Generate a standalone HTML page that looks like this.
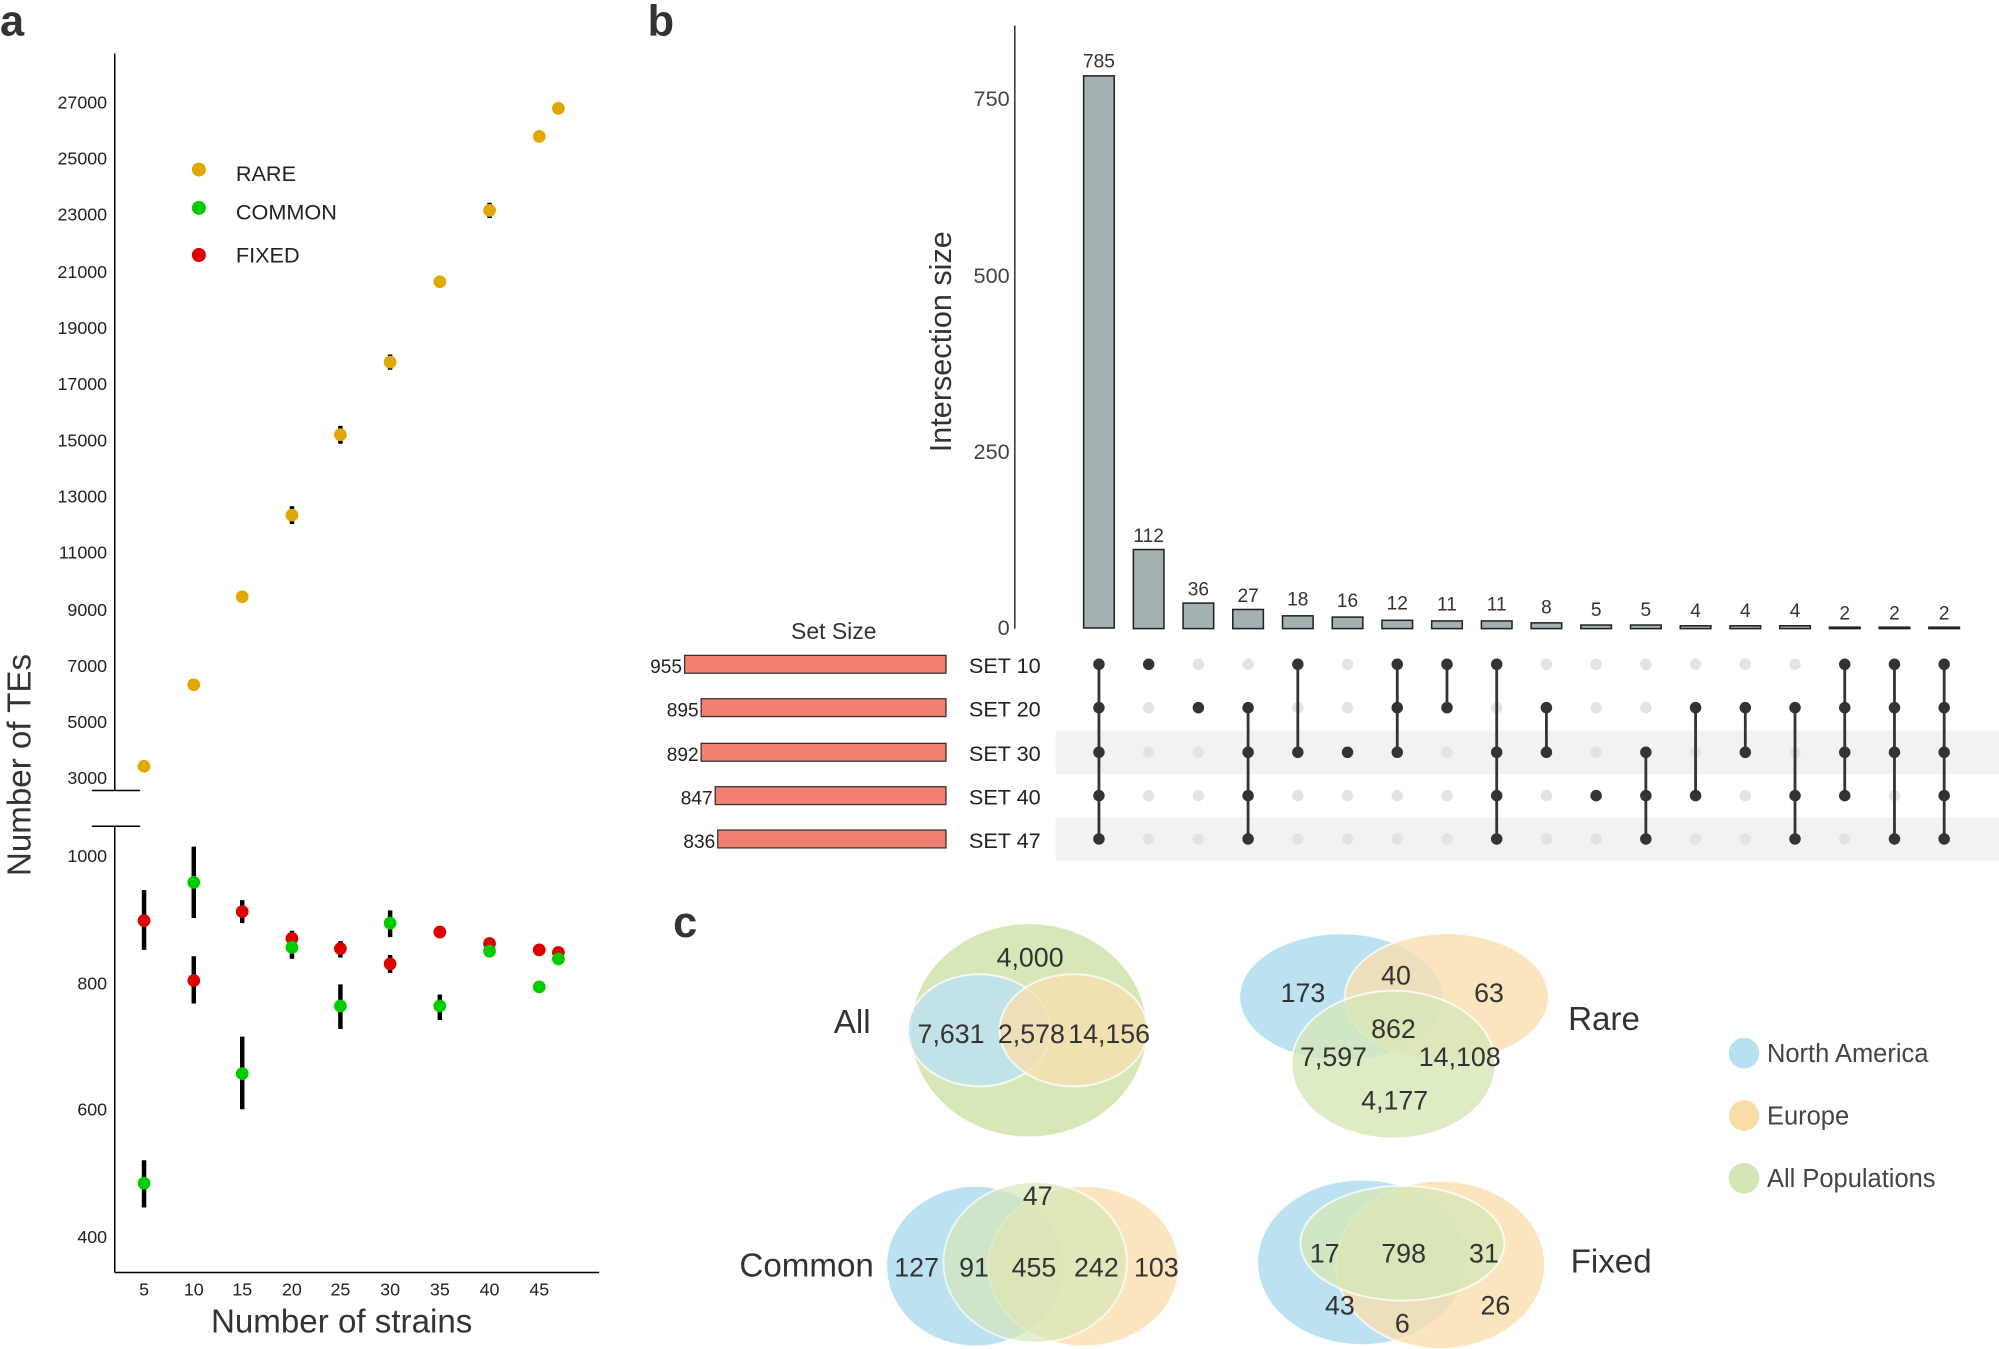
<!DOCTYPE html>
<html><head><meta charset="utf-8"><style>
html,body{margin:0;padding:0;background:#fff}
svg{display:block}
text{font-family:"Liberation Sans","DejaVu Sans",sans-serif}
</style></head><body>
<svg width="1999" height="1349" viewBox="0 0 1568 1058" preserveAspectRatio="none" xmlns="http://www.w3.org/2000/svg">
<defs>
<g id="gcol"><circle cy="521" r="4.5"/><circle cy="555" r="4.5"/><circle cy="590" r="4.5"/><circle cy="624" r="4.5"/><circle cy="658" r="4.5"/></g>
</defs>
<rect width="1568" height="1058" fill="#fff"/>
<text x="0" y="28" font-size="34" font-weight="bold" fill="#333">a</text>
<text x="508" y="28" font-size="34" font-weight="bold" fill="#333">b</text>
<text x="528" y="735" font-size="34" font-weight="bold" fill="#333">c</text>

<g stroke="#000" stroke-width="1.2" fill="none">
<line x1="90" y1="42" x2="90" y2="620"/>
<line x1="90" y1="648" x2="90" y2="998"/>
<line x1="90" y1="998" x2="470" y2="998"/>
<line x1="72" y1="620" x2="110" y2="620"/>
<line x1="72" y1="648" x2="110" y2="648"/>
</g>
<g font-size="14" fill="#222" text-anchor="end">
<text x="84" y="85">27000</text><text x="84" y="129">25000</text><text x="84" y="173">23000</text>
<text x="84" y="218">21000</text><text x="84" y="262">19000</text><text x="84" y="306">17000</text>
<text x="84" y="350">15000</text><text x="84" y="394">13000</text><text x="84" y="438">11000</text>
<text x="84" y="483">9000</text><text x="84" y="527">7000</text><text x="84" y="571">5000</text>
<text x="84" y="615">3000</text>
<text x="84" y="676">1000</text><text x="84" y="776">800</text><text x="84" y="875">600</text><text x="84" y="975">400</text>
</g>
<g font-size="14" fill="#222" text-anchor="middle">
<text x="113" y="1016">5</text><text x="152" y="1016">10</text><text x="190" y="1016">15</text>
<text x="229" y="1016">20</text><text x="267" y="1016">25</text><text x="306" y="1016">30</text>
<text x="345" y="1016">35</text><text x="384" y="1016">40</text><text x="423" y="1016">45</text>
</g>
<text x="268" y="1045" font-size="26" fill="#333" text-anchor="middle">Number of strains</text>
<text transform="translate(24,600) rotate(-90)" font-size="26" fill="#333" text-anchor="middle">Number of TEs</text>
<g stroke="#000" stroke-width="3.5">
<line x1="113" y1="910" x2="113" y2="947"/><line x1="152" y1="664" x2="152" y2="720"/>
<line x1="190" y1="813" x2="190" y2="870"/><line x1="113" y1="698" x2="113" y2="745"/>
<line x1="152" y1="750" x2="152" y2="787"/><line x1="190" y1="706" x2="190" y2="724"/>
<line x1="267" y1="772" x2="267" y2="807"/><line x1="306" y1="714" x2="306" y2="735"/>
<line x1="345" y1="780" x2="345" y2="800"/><line x1="229" y1="730" x2="229" y2="752"/>
<line x1="267" y1="738" x2="267" y2="751"/><line x1="306" y1="749" x2="306" y2="763"/>
<line x1="267" y1="334" x2="267" y2="348"/><line x1="229" y1="397" x2="229" y2="411"/>
<line x1="384" y1="159" x2="384" y2="171"/><line x1="306" y1="278" x2="306" y2="290"/>
</g>
<g fill="#e0a800">
<circle cx="113" cy="601" r="5"/><circle cx="152" cy="537" r="5"/><circle cx="190" cy="468" r="5"/>
<circle cx="229" cy="404" r="5"/><circle cx="267" cy="341" r="5"/><circle cx="306" cy="284" r="5"/>
<circle cx="345" cy="221" r="5"/><circle cx="384" cy="165" r="5"/><circle cx="423" cy="107" r="5"/>
<circle cx="438" cy="85" r="5"/><circle cx="156" cy="133" r="5.5"/>
</g>
<g fill="#dd0000">
<circle cx="113" cy="722" r="5"/><circle cx="152" cy="769" r="5"/><circle cx="190" cy="715" r="5"/>
<circle cx="229" cy="736" r="5"/><circle cx="267" cy="744" r="5"/><circle cx="306" cy="756" r="5"/>
<circle cx="345" cy="731" r="5"/><circle cx="384" cy="740" r="5"/><circle cx="423" cy="745" r="5"/>
<circle cx="438" cy="747" r="5"/><circle cx="156" cy="200" r="5.5"/>
</g>
<g fill="#00cc00">
<circle cx="113" cy="928" r="5"/><circle cx="152" cy="692" r="5"/><circle cx="190" cy="842" r="5"/>
<circle cx="229" cy="743" r="5"/><circle cx="267" cy="789" r="5"/><circle cx="306" cy="724" r="5"/>
<circle cx="345" cy="789" r="5"/><circle cx="384" cy="746" r="5"/><circle cx="423" cy="774" r="5"/>
<circle cx="438" cy="752" r="5"/><circle cx="156" cy="163" r="5.5"/>
</g>
<g font-size="17" fill="#222">
<text x="185" y="142">RARE</text><text x="185" y="172">COMMON</text><text x="185" y="206">FIXED</text>
</g>

<line x1="796" y1="20" x2="796" y2="493" stroke="#333" stroke-width="1.2"/>
<g font-size="17" fill="#444" text-anchor="end">
<text x="792" y="83">750</text><text x="792" y="222">500</text><text x="792" y="360">250</text><text x="792" y="498">0</text>
</g>
<text transform="translate(746,268) rotate(-90)" font-size="24" fill="#333" text-anchor="middle">Intersection size</text>
<g fill="#a3b1b3" stroke="#222" stroke-width="1.2">
<rect x="850" y="59.5" width="24" height="433"/>
<rect x="889" y="431" width="24" height="62"/>
<rect x="928" y="473" width="24" height="20"/>
<rect x="967" y="478" width="24" height="15"/>
<rect x="1006" y="483" width="24" height="10"/>
<rect x="1045" y="484" width="24" height="9"/>
<rect x="1084" y="486.5" width="24" height="6.5"/>
<rect x="1123" y="487" width="24" height="6"/>
<rect x="1162" y="487" width="24" height="6"/>
<rect x="1201" y="488.5" width="24" height="4.5"/>
<rect x="1240" y="490.2" width="24" height="2.8"/>
<rect x="1279" y="490.2" width="24" height="2.8"/>
<rect x="1318" y="490.8" width="24" height="2.2"/>
<rect x="1357" y="490.8" width="24" height="2.2"/>
<rect x="1396" y="490.8" width="24" height="2.2"/>
<rect x="1435" y="491.9" width="24" height="1.1"/>
<rect x="1474" y="491.9" width="24" height="1.1"/>
<rect x="1513" y="491.9" width="24" height="1.1"/>
</g>
<g font-size="15" fill="#333" text-anchor="middle">
<text x="862" y="53">785</text><text x="901" y="425">112</text><text x="940" y="467">36</text>
<text x="979" y="472">27</text><text x="1018" y="475">18</text><text x="1057" y="476">16</text>
<text x="1096" y="478">12</text><text x="1135" y="479">11</text><text x="1174" y="479">11</text>
<text x="1213" y="481">8</text><text x="1252" y="483">5</text><text x="1291" y="483">5</text>
<text x="1330" y="484">4</text><text x="1369" y="484">4</text><text x="1408" y="484">4</text>
<text x="1447" y="486">2</text><text x="1486" y="486">2</text><text x="1525" y="486">2</text>
</g>
<rect x="828" y="573" width="740" height="34" fill="#f2f2f2"/>
<rect x="828" y="641" width="740" height="34" fill="#f2f2f2"/>
<text x="654" y="501" font-size="18" fill="#333" text-anchor="middle">Set Size</text>
<g fill="#f28072" stroke="#333" stroke-width="1">
<rect x="537" y="514" width="205" height="14"/>
<rect x="550" y="548" width="192" height="14"/>
<rect x="550" y="583" width="192" height="14"/>
<rect x="561" y="617" width="181" height="14"/>
<rect x="563" y="651" width="179" height="14"/>
</g>
<g font-size="15" fill="#222" text-anchor="end">
<text x="535" y="528">955</text><text x="548" y="562">895</text><text x="548" y="597">892</text>
<text x="559" y="631">847</text><text x="561" y="665">836</text>
</g>
<g font-size="17" fill="#222">
<text x="760" y="528">SET 10</text><text x="760" y="562">SET 20</text><text x="760" y="597">SET 30</text>
<text x="760" y="631">SET 40</text><text x="760" y="665">SET 47</text>
</g>
<g fill="#e3e3e3">
<use href="#gcol" x="862"/><use href="#gcol" x="901"/><use href="#gcol" x="940"/><use href="#gcol" x="979"/>
<use href="#gcol" x="1018"/><use href="#gcol" x="1057"/><use href="#gcol" x="1096"/><use href="#gcol" x="1135"/>
<use href="#gcol" x="1174"/><use href="#gcol" x="1213"/><use href="#gcol" x="1252"/><use href="#gcol" x="1291"/>
<use href="#gcol" x="1330"/><use href="#gcol" x="1369"/><use href="#gcol" x="1408"/><use href="#gcol" x="1447"/>
<use href="#gcol" x="1486"/><use href="#gcol" x="1525"/>
</g>
<g stroke="#333" stroke-width="2.2">
<line x1="862" y1="521" x2="862" y2="658"/>
<line x1="979" y1="555" x2="979" y2="658"/>
<line x1="1018" y1="521" x2="1018" y2="590"/>
<line x1="1096" y1="521" x2="1096" y2="590"/>
<line x1="1135" y1="521" x2="1135" y2="555"/>
<line x1="1174" y1="521" x2="1174" y2="658"/>
<line x1="1213" y1="555" x2="1213" y2="590"/>
<line x1="1291" y1="590" x2="1291" y2="658"/>
<line x1="1330" y1="555" x2="1330" y2="624"/>
<line x1="1369" y1="555" x2="1369" y2="590"/>
<line x1="1408" y1="555" x2="1408" y2="658"/>
<line x1="1447" y1="521" x2="1447" y2="624"/>
<line x1="1486" y1="521" x2="1486" y2="658"/>
<line x1="1525" y1="521" x2="1525" y2="658"/>
</g>
<g fill="#333">
<use href="#gcol" x="862"/>
<circle cx="901" cy="521" r="4.5"/>
<circle cx="940" cy="555" r="4.5"/>
<circle cx="979" cy="555" r="4.5"/><circle cx="979" cy="590" r="4.5"/><circle cx="979" cy="624" r="4.5"/><circle cx="979" cy="658" r="4.5"/>
<circle cx="1018" cy="521" r="4.5"/><circle cx="1018" cy="590" r="4.5"/>
<circle cx="1057" cy="590" r="4.5"/>
<circle cx="1096" cy="521" r="4.5"/><circle cx="1096" cy="555" r="4.5"/><circle cx="1096" cy="590" r="4.5"/>
<circle cx="1135" cy="521" r="4.5"/><circle cx="1135" cy="555" r="4.5"/>
<circle cx="1174" cy="521" r="4.5"/><circle cx="1174" cy="590" r="4.5"/><circle cx="1174" cy="624" r="4.5"/><circle cx="1174" cy="658" r="4.5"/>
<circle cx="1213" cy="555" r="4.5"/><circle cx="1213" cy="590" r="4.5"/>
<circle cx="1252" cy="624" r="4.5"/>
<circle cx="1291" cy="590" r="4.5"/><circle cx="1291" cy="624" r="4.5"/><circle cx="1291" cy="658" r="4.5"/>
<circle cx="1330" cy="555" r="4.5"/><circle cx="1330" cy="624" r="4.5"/>
<circle cx="1369" cy="555" r="4.5"/><circle cx="1369" cy="590" r="4.5"/>
<circle cx="1408" cy="555" r="4.5"/><circle cx="1408" cy="624" r="4.5"/><circle cx="1408" cy="658" r="4.5"/>
<circle cx="1447" cy="521" r="4.5"/><circle cx="1447" cy="555" r="4.5"/><circle cx="1447" cy="590" r="4.5"/><circle cx="1447" cy="624" r="4.5"/>
<circle cx="1486" cy="521" r="4.5"/><circle cx="1486" cy="555" r="4.5"/><circle cx="1486" cy="590" r="4.5"/><circle cx="1486" cy="658" r="4.5"/>
<use href="#gcol" x="1525"/>
</g>

<g stroke="#fff" stroke-width="1.5" opacity="0.75">
<ellipse cx="807" cy="808" rx="93" ry="84" fill="#c9e0a0"/>
<ellipse cx="768" cy="808" rx="56" ry="44" fill="#a6d8ee" opacity="0.8"/>
<ellipse cx="842" cy="808" rx="58" ry="44" fill="#f8d594" opacity="0.8"/>
<ellipse cx="1052" cy="782" rx="80" ry="50" fill="#a6d8ee"/>
<ellipse cx="1135" cy="782" rx="80" ry="50" fill="#f8d594" opacity="0.8"/>
<ellipse cx="1093" cy="835" rx="80" ry="58" fill="#c9e0a0" opacity="0.8"/>
<ellipse cx="765" cy="993" rx="70" ry="63" fill="#a6d8ee"/>
<ellipse cx="850" cy="993" rx="75" ry="63" fill="#f8d594" opacity="0.8"/>
<ellipse cx="812" cy="990" rx="72" ry="63" fill="#c9e0a0" opacity="0.7"/>
<ellipse cx="1068" cy="990" rx="82" ry="65" fill="#a6d8ee"/>
<ellipse cx="1130" cy="992" rx="82" ry="66" fill="#f8d594" opacity="0.8"/>
<ellipse cx="1100" cy="975" rx="80" ry="45" fill="#c9e0a0" opacity="0.8"/>
</g>
<g font-size="21" fill="#333" text-anchor="middle">
<text x="808" y="758">4,000</text><text x="746" y="818">7,631</text><text x="809" y="818">2,578</text><text x="870" y="818">14,156</text>
<text x="1022" y="786">173</text><text x="1095" y="772">40</text><text x="1168" y="786">63</text>
<text x="1093" y="814">862</text><text x="1046" y="836">7,597</text><text x="1145" y="836">14,108</text><text x="1094" y="870">4,177</text>
<text x="814" y="945">47</text><text x="719" y="1001">127</text><text x="764" y="1001">91</text><text x="811" y="1001">455</text>
<text x="860" y="1001">242</text><text x="907" y="1001">103</text>
<text x="1039" y="990">17</text><text x="1101" y="990">798</text><text x="1164" y="990">31</text>
<text x="1051" y="1031">43</text><text x="1100" y="1045">6</text><text x="1173" y="1031">26</text>
</g>
<g font-size="26" fill="#333">
<text x="654" y="810">All</text><text x="1230" y="808">Rare</text>
<text x="580" y="1001">Common</text><text x="1232" y="998">Fixed</text>
</g>
<circle cx="1368" cy="826" r="12" fill="#a6d8ee" opacity="0.8"/>
<circle cx="1368" cy="875" r="12" fill="#f8d594" opacity="0.8"/>
<circle cx="1368" cy="924" r="12" fill="#c9e0a0" opacity="0.8"/>
<g font-size="20" fill="#444">
<text x="1386" y="833">North America</text><text x="1386" y="882">Europe</text><text x="1386" y="931">All Populations</text>
</g>
</svg>
</body></html>
